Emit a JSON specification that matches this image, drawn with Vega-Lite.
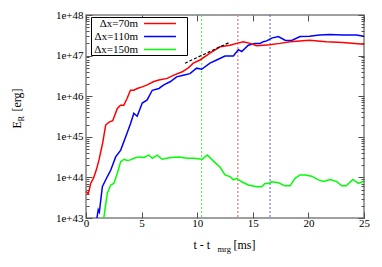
{
  "$schema": "https://vega.github.io/schema/vega-lite/v6.json",
  "width": 278,
  "height": 203,
  "autosize": {"type": "none"},
  "padding": {"left": 86, "top": 15, "right": 18, "bottom": 49},
  "background": "white",
  "config": {
    "view": {"stroke": "#808080", "strokeWidth": 1.5},
    "axis": {
      "labelFont": "Liberation Serif", "labelFontSize": 11, "labelColor": "black",
      "titleFont": "Liberation Serif", "titleFontSize": 12, "titleFontWeight": "normal", "titleColor": "black",
      "tickColor": "#505050", "tickWidth": 1, "grid": false, "domain": false,
      "labelFlush": false, "labelOverlap": false
    }
  },
  "data": {"values": [
    {"series":"Δx=70m","t":0,"E":4.5e43},{"series":"Δx=70m","t":0.2,"E":4.0e43},{"series":"Δx=70m","t":0.3,"E":5.0e43},{"series":"Δx=70m","t":0.42,"E":7.1e43},{"series":"Δx=70m","t":0.7,"E":1.0e44},{"series":"Δx=70m","t":0.95,"E":1.6e44},{"series":"Δx=70m","t":1.17,"E":2.7e44},{"series":"Δx=70m","t":1.5,"E":7.1e44},{"series":"Δx=70m","t":1.77,"E":1.95e45},{"series":"Δx=70m","t":2.07,"E":2.3e45},{"series":"Δx=70m","t":2.4,"E":2.5e45},{"series":"Δx=70m","t":2.82,"E":5.0e45},{"series":"Δx=70m","t":3.1,"E":6.0e45},{"series":"Δx=70m","t":3.4,"E":6.0e45},{"series":"Δx=70m","t":3.7,"E":8.9e45},{"series":"Δx=70m","t":4.0,"E":1.4e46},{"series":"Δx=70m","t":4.3,"E":1.4e46},{"series":"Δx=70m","t":4.6,"E":1.55e46},{"series":"Δx=70m","t":5.06,"E":1.7e46},{"series":"Δx=70m","t":5.5,"E":1.9e46},{"series":"Δx=70m","t":6.1,"E":2.3e46},{"series":"Δx=70m","t":6.56,"E":2.5e46},{"series":"Δx=70m","t":7.3,"E":2.75e46},{"series":"Δx=70m","t":7.9,"E":3.3e46},{"series":"Δx=70m","t":8.66,"E":4.0e46},{"series":"Δx=70m","t":9.2,"E":5.0e46},{"series":"Δx=70m","t":9.65,"E":6.5e46},{"series":"Δx=70m","t":10.25,"E":7.8e46},{"series":"Δx=70m","t":11.15,"E":1.15e47},{"series":"Δx=70m","t":12.05,"E":1.65e47},{"series":"Δx=70m","t":12.95,"E":1.8e47},{"series":"Δx=70m","t":13.55,"E":2.0e47},{"series":"Δx=70m","t":14.15,"E":2.2e47},{"series":"Δx=70m","t":14.75,"E":2.0e47},{"series":"Δx=70m","t":15.35,"E":1.75e47},{"series":"Δx=70m","t":15.95,"E":1.8e47},{"series":"Δx=70m","t":16.5,"E":1.85e47},{"series":"Δx=70m","t":17.45,"E":2.0e47},{"series":"Δx=70m","t":18.35,"E":2.2e47},{"series":"Δx=70m","t":20.1,"E":2.4e47},{"series":"Δx=70m","t":21.6,"E":2.2e47},{"series":"Δx=70m","t":23.1,"E":2.1e47},{"series":"Δx=70m","t":25,"E":1.9e47},
    {"series":"Δx=110m","t":0.9,"E":8e42},{"series":"Δx=110m","t":1.0,"E":1.07e43},{"series":"Δx=110m","t":1.1,"E":1.6e43},{"series":"Δx=110m","t":1.2,"E":1.4e43},{"series":"Δx=110m","t":1.47,"E":5.9e43},{"series":"Δx=110m","t":1.92,"E":1.05e44},{"series":"Δx=110m","t":2.22,"E":1.5e44},{"series":"Δx=110m","t":2.67,"E":3.2e44},{"series":"Δx=110m","t":3.12,"E":4.7e44},{"series":"Δx=110m","t":3.57,"E":1.0e45},{"series":"Δx=110m","t":4.0,"E":2.1e45},{"series":"Δx=110m","t":4.3,"E":3.8e45},{"series":"Δx=110m","t":4.6,"E":3.2e45},{"series":"Δx=110m","t":5.06,"E":6.8e45},{"series":"Δx=110m","t":5.5,"E":8.1e45},{"series":"Δx=110m","t":5.96,"E":1.4e46},{"series":"Δx=110m","t":6.56,"E":1.55e46},{"series":"Δx=110m","t":7.0,"E":1.9e46},{"series":"Δx=110m","t":7.6,"E":2.3e46},{"series":"Δx=110m","t":8.15,"E":3.0e46},{"series":"Δx=110m","t":8.75,"E":3.3e46},{"series":"Δx=110m","t":9.35,"E":3.6e46},{"series":"Δx=110m","t":9.95,"E":4.9e46},{"series":"Δx=110m","t":10.4,"E":4.6e46},{"series":"Δx=110m","t":11.15,"E":6.5e46},{"series":"Δx=110m","t":11.75,"E":7.8e46},{"series":"Δx=110m","t":12.5,"E":9.8e46},{"series":"Δx=110m","t":13.25,"E":9.8e46},{"series":"Δx=110m","t":13.7,"E":1.4e47},{"series":"Δx=110m","t":14.0,"E":1.26e47},{"series":"Δx=110m","t":14.6,"E":1.8e47},{"series":"Δx=110m","t":15.2,"E":2.0e47},{"series":"Δx=110m","t":15.65,"E":2.0e47},{"series":"Δx=110m","t":15.95,"E":2.2e47},{"series":"Δx=110m","t":16.25,"E":2.3e47},{"series":"Δx=110m","t":16.7,"E":2.7e47},{"series":"Δx=110m","t":17.3,"E":2.95e47},{"series":"Δx=110m","t":17.9,"E":2.4e47},{"series":"Δx=110m","t":18.5,"E":2.35e47},{"series":"Δx=110m","t":19.25,"E":2.95e47},{"series":"Δx=110m","t":20.1,"E":3.0e47},{"series":"Δx=110m","t":21.0,"E":3.2e47},{"series":"Δx=110m","t":21.9,"E":3.3e47},{"series":"Δx=110m","t":23.1,"E":3.2e47},{"series":"Δx=110m","t":24.3,"E":3.2e47},{"series":"Δx=110m","t":25,"E":3.0e47},
    {"series":"Δx=150m","t":1.5,"E":8e42},{"series":"Δx=150m","t":1.6,"E":1.0e43},{"series":"Δx=150m","t":1.75,"E":2.0e43},{"series":"Δx=150m","t":1.92,"E":4.1e43},{"series":"Δx=150m","t":2.22,"E":6.5e43},{"series":"Δx=150m","t":2.5,"E":7.1e43},{"series":"Δx=150m","t":2.82,"E":1.26e44},{"series":"Δx=150m","t":3.12,"E":2.45e44},{"series":"Δx=150m","t":3.42,"E":2.8e44},{"series":"Δx=150m","t":3.7,"E":2.6e44},{"series":"Δx=150m","t":4.0,"E":2.7e44},{"series":"Δx=150m","t":4.3,"E":2.95e44},{"series":"Δx=150m","t":4.75,"E":3.2e44},{"series":"Δx=150m","t":5.2,"E":3.1e44},{"series":"Δx=150m","t":5.66,"E":3.55e44},{"series":"Δx=150m","t":5.96,"E":2.95e44},{"series":"Δx=150m","t":6.4,"E":3.55e44},{"series":"Δx=150m","t":6.86,"E":2.8e44},{"series":"Δx=150m","t":7.6,"E":3.1e44},{"series":"Δx=150m","t":8.36,"E":3.2e44},{"series":"Δx=150m","t":9.1,"E":2.95e44},{"series":"Δx=150m","t":9.7,"E":2.95e44},{"series":"Δx=150m","t":10.45,"E":2.8e44},{"series":"Δx=150m","t":10.9,"E":3.55e44},{"series":"Δx=150m","t":11.65,"E":2.25e44},{"series":"Δx=150m","t":12.05,"E":1.8e44},{"series":"Δx=150m","t":12.5,"E":1.15e44},{"series":"Δx=150m","t":12.95,"E":1.05e44},{"series":"Δx=150m","t":13.25,"E":8.7e43},{"series":"Δx=150m","t":13.55,"E":9.5e43},{"series":"Δx=150m","t":14.0,"E":7.8e43},{"series":"Δx=150m","t":14.6,"E":6.5e43},{"series":"Δx=150m","t":15.35,"E":5.9e43},{"series":"Δx=150m","t":15.8,"E":5.9e43},{"series":"Δx=150m","t":16.1,"E":7.1e43},{"series":"Δx=150m","t":16.4,"E":7.1e43},{"series":"Δx=150m","t":16.7,"E":7.8e43},{"series":"Δx=150m","t":17.3,"E":7.4e43},{"series":"Δx=150m","t":17.9,"E":6.2e43},{"series":"Δx=150m","t":18.35,"E":6.2e43},{"series":"Δx=150m","t":18.8,"E":9.5e43},{"series":"Δx=150m","t":19.25,"E":1.15e44},{"series":"Δx=150m","t":19.7,"E":1.15e44},{"series":"Δx=150m","t":20.3,"E":1.07e44},{"series":"Δx=150m","t":20.9,"E":8.7e43},{"series":"Δx=150m","t":21.35,"E":7.9e43},{"series":"Δx=150m","t":21.95,"E":8.9e43},{"series":"Δx=150m","t":22.55,"E":7.9e43},{"series":"Δx=150m","t":23.0,"E":6.2e43},{"series":"Δx=150m","t":23.4,"E":6.2e43},{"series":"Δx=150m","t":24.0,"E":8.9e43},{"series":"Δx=150m","t":24.5,"E":7.1e43},{"series":"Δx=150m","t":24.9,"E":7.9e43},{"series":"Δx=150m","t":25,"E":7.5e43}
  ]},
  "layer": [
    {
      "data": {"values": [{"t": 10.4}]},
      "mark": {"type": "rule", "strokeDash": [2, 2], "strokeWidth": 1, "color": "#33ee33"},
      "encoding": {
        "x": {"field": "t", "type": "quantitative",
          "scale": {"domain": [0, 25], "nice": false, "zero": false},
          "axis": {"orient": "top", "values": [0, 5, 10, 15, 20, 25], "tickSize": -6, "labels": false,
            "title": "mrg", "titleFontSize": 8.5, "titleX": 131, "titleY": 236, "titleAlign": "left", "titleBaseline": "alphabetic"}}
      }
    },
    {
      "data": {"values": [{"t": 13.65}]},
      "mark": {"type": "rule", "strokeDash": [2, 2], "strokeWidth": 1.5, "color": "#ff8888"},
      "encoding": {"x": {"field": "t", "type": "quantitative", "axis": null}}
    },
    {
      "data": {"values": [{"t": 16.55}]},
      "mark": {"type": "rule", "strokeDash": [2, 2], "strokeWidth": 1, "color": "#5555ff"},
      "encoding": {"x": {"field": "t", "type": "quantitative", "axis": null}}
    },
    {
      "transform": [{"filter": "datum.series === 'Δx=150m'"}],
      "mark": {"type": "line", "strokeWidth": 1.5, "clip": true},
      "encoding": {
        "x": {"field": "t", "type": "quantitative",
          "axis": {"orient": "bottom", "values": [0, 5, 10, 15, 20, 25], "tickSize": -6, "labelPadding": 5,
            "title": "t - t", "titleX": 107, "titleY": 30.7, "titleAlign": "left", "titleBaseline": "alphabetic"}},
        "y": {"field": "E", "type": "quantitative",
          "scale": {"type": "log", "domain": [1e43, 1e48], "nice": false},
          "axis": {"orient": "left",
            "values": [1e43,2e43,3e43,4e43,5e43,6e43,7e43,8e43,9e43,1e44,2e44,3e44,4e44,5e44,6e44,7e44,8e44,9e44,1e45,2e45,3e45,4e45,5e45,6e45,7e45,8e45,9e45,1e46,2e46,3e46,4e46,5e46,6e46,7e46,8e46,9e46,1e47,2e47,3e47,4e47,5e47,6e47,7e47,8e47,9e47,1e48],
            "tickSize": {"condition": {"test": "abs(log(datum.value)/LN10 - round(log(datum.value)/LN10)) < 0.01", "value": -6}, "value": -3},
            "labelExpr": "abs(log(datum.value)/LN10 - round(log(datum.value)/LN10)) < 0.01 ? '1e+' + round(log(datum.value)/LN10) : ''",
            "labelPadding": 9,
            "title": "E", "titleAngle": 270, "titleX": -66, "titleY": 113, "titleAlign": "left", "titleBaseline": "alphabetic"}},
        "color": {"field": "series", "type": "nominal",
          "scale": {"domain": ["Δx=70m", "Δx=110m", "Δx=150m"], "range": ["#ff0000", "#0000ff", "#00ff00"]},
          "legend": {
            "orient": "none", "legendX": 5, "legendY": 2, "title": null,
            "strokeColor": "black", "fillColor": "white", "padding": 0,
            "labelFont": "Liberation Serif", "labelFontSize": 11, "labelColor": "black", "labelAlign": "right",
            "labelExpr": "'\u00a0\u00a0\u00a0' + datum.label",
            "symbolType": "M-2.9,0H2.9M4.2,0", "symbolSize": 121, "symbolStrokeWidth": 1.5,
            "rowPadding": 1,
            "encode": {"labels": {"update": {"x": {"value": 47}}}, "symbols": {"update": {"x": {"value": 69}}}}
          }}
      }
    },
    {
      "transform": [{"filter": "datum.series === 'Δx=110m'"}],
      "mark": {"type": "line", "strokeWidth": 1.5, "clip": true},
      "encoding": {
        "x": {"field": "t", "type": "quantitative", "axis": null},
        "y": {"field": "E", "type": "quantitative",
          "axis": {"orient": "right",
            "values": [1e43,2e43,3e43,4e43,5e43,6e43,7e43,8e43,9e43,1e44,2e44,3e44,4e44,5e44,6e44,7e44,8e44,9e44,1e45,2e45,3e45,4e45,5e45,6e45,7e45,8e45,9e45,1e46,2e46,3e46,4e46,5e46,6e46,7e46,8e46,9e46,1e47,2e47,3e47,4e47,5e47,6e47,7e47,8e47,9e47,1e48],
            "tickSize": {"condition": {"test": "abs(log(datum.value)/LN10 - round(log(datum.value)/LN10)) < 0.01", "value": -6}, "value": -3},
            "labels": false,
            "title": "R", "titleFontSize": 8.5, "titleAngle": 270, "titleX": -341, "titleY": 106, "titleAlign": "left", "titleBaseline": "alphabetic"}},
        "color": {"field": "series", "type": "nominal"}
      }
    },
    {
      "transform": [{"filter": "datum.series === 'Δx=70m'"}],
      "mark": {"type": "line", "strokeWidth": 1.5, "clip": true},
      "encoding": {
        "x": {"field": "t", "type": "quantitative",
          "axis": {"orient": "bottom", "ticks": false, "labels": false,
            "title": "[ms]", "titleX": 147, "titleY": 30.7, "titleAlign": "left", "titleBaseline": "alphabetic"}},
        "y": {"field": "E", "type": "quantitative",
          "axis": {"orient": "left", "ticks": false, "labels": false,
            "title": "[erg]", "titleAngle": 270, "titleX": -66, "titleY": 96, "titleAlign": "left", "titleBaseline": "alphabetic"}},
        "color": {"field": "series", "type": "nominal"}
      }
    },
    {
      "data": {"values": [{"t": 8.9, "E": 6.5e46}, {"t": 12.95, "E": 2.15e47}]},
      "mark": {"type": "line", "color": "black", "strokeDash": [3, 2], "strokeWidth": 1.2},
      "encoding": {
        "x": {"field": "t", "type": "quantitative", "axis": null},
        "y": {"field": "E", "type": "quantitative", "axis": null}
      }
    }
  ],
  "resolve": {"axis": {"x": "independent", "y": "independent"}}
}
